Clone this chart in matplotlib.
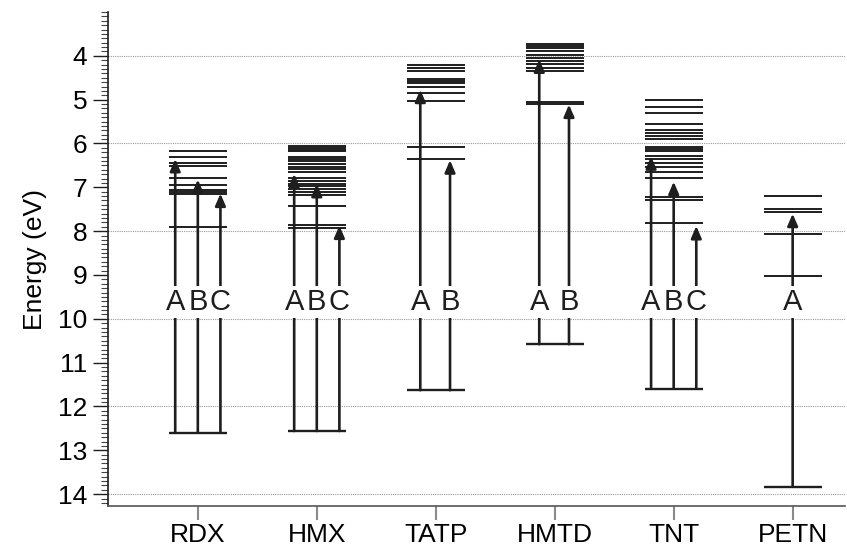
import matplotlib
matplotlib.use("Agg")
import matplotlib.pyplot as plt
from matplotlib.ticker import FixedLocator, MultipleLocator

plt.rcParams['font.family'] = ['Liberation Sans', 'DejaVu Sans']

# Molecules along the x axis
molecules = ["RDX", "HMX", "TATP", "HMTD", "TNT", "PETN"]

# Unoccupied (upper) energy levels in eV for each molecule
rdx_levels = [6.16, 6.30, 6.45, 6.51, 6.79, 6.95, 7.06, 7.11, 7.16, 7.91]
hmx_levels = [6.06, 6.10, 6.14, 6.17, 6.30, 6.35, 6.41, 6.47, 6.53, 6.59,
              6.64, 6.78, 6.85, 6.92, 6.98, 7.04, 7.11, 7.17, 7.42, 7.86, 7.92]
tatp_levels = [4.21, 4.27, 4.34, 4.53, 4.57, 4.62, 4.70, 4.85, 5.04, 6.09, 6.35]
hmtd_levels = [3.74, 3.78, 3.82, 3.90, 3.98, 4.04, 4.11, 4.19, 4.27, 4.34,
               5.06, 5.09]
tnt_levels = [5.00, 5.16, 5.31, 5.56, 5.69, 5.75, 5.84, 5.90, 6.08, 6.12,
              6.16, 6.28, 6.36, 6.45, 6.53, 6.64, 6.79, 7.21, 7.29, 7.81]
petn_levels = [7.20, 7.49, 7.56, 8.07, 9.02]

# Lowest (starting) level for each molecule in eV
ground_levels = [12.60, 12.56, 11.63, 10.58, 11.59, 13.83]

# End energies of the labelled transitions A, B, C
rdx_transitions = [6.32, 6.79, 7.11]
hmx_transitions = [6.66, 6.89, 7.84]
tatp_transitions = [4.74, 6.35]
hmtd_transitions = [4.05, 5.08]
tnt_transitions = [6.26, 6.84, 7.85]
petn_transitions = [7.57]

transition_names = ["A", "B", "C"]

level_sets = [rdx_levels, hmx_levels, tatp_levels, hmtd_levels, tnt_levels, petn_levels]
transition_sets = [rdx_transitions, hmx_transitions, tatp_transitions,
                   hmtd_transitions, tnt_transitions, petn_transitions]

ink = "#1e1e1e"
half_width = 0.245
label_y = 9.62

fig = plt.figure(figsize=(8.47, 5.5), dpi=100)
ax = fig.add_axes([108 / 847, 1 - 506 / 550, (845 - 108) / 847, (506 - 12) / 550])

# dotted horizontal guides at even energies
for e in range(4, 15, 2):
    ax.axhline(e, color="#9a9a9a", lw=0.8, ls=(0, (1, 1)), zorder=0)

for i, (name, levels, ground, trans) in enumerate(
        zip(molecules, level_sets, ground_levels, transition_sets)):
    x = i + 1
    ax.hlines(levels, x - half_width, x + half_width, color=ink, lw=1.4, zorder=2)
    ax.hlines([ground], x - half_width, x + half_width, color=ink, lw=1.7, zorder=2)

    n = len(trans)
    if n == 3:
        offsets = [-0.19, 0.0, 0.19]
    elif n == 2:
        offsets = [-0.13, 0.12]
    else:
        offsets = [0.0]

    for off, target, lab in zip(offsets, trans, transition_names):
        ax.annotate("", xy=(x + off, target), xytext=(x + off, ground),
                    arrowprops=dict(arrowstyle="-|>,head_length=0.65,head_width=0.28",
                                    mutation_scale=11, color=ink, lw=1.9,
                                    shrinkA=0, shrinkB=1),
                    zorder=3)
        ax.text(x + off, label_y, lab, ha="center", va="center", fontsize=21,
                color=ink, zorder=5,
                bbox=dict(fc="white", ec="none", pad=1.5))

ax.set_ylim(14.27, 3.0)
ax.set_xlim(0.245, 6.44)

ax.yaxis.set_major_locator(FixedLocator(range(4, 15)))
ax.yaxis.set_minor_locator(MultipleLocator(0.1))
ax.set_yticklabels([str(v) for v in range(4, 15)])
ax.tick_params(axis="y", which="major", length=11, width=1.0, color=ink,
               labelsize=19, pad=4)
ax.tick_params(axis="y", which="minor", length=5, width=0.8, color="#444444")

ax.set_xticks(range(1, len(molecules) + 1))
ax.set_xticklabels(molecules)
ax.tick_params(axis="x", length=10, width=1.5, color="#8a8a8a", labelsize=19, pad=2)

ax.set_ylabel("Energy (eV)", fontsize=19, labelpad=8)

for side in ("top", "right"):
    ax.spines[side].set_visible(False)
ax.spines["left"].set_color(ink)
ax.spines["left"].set_linewidth(1.2)
ax.spines["bottom"].set_color("#555555")
ax.spines["bottom"].set_linewidth(1.2)

fig.savefig("out.png", dpi=100)
